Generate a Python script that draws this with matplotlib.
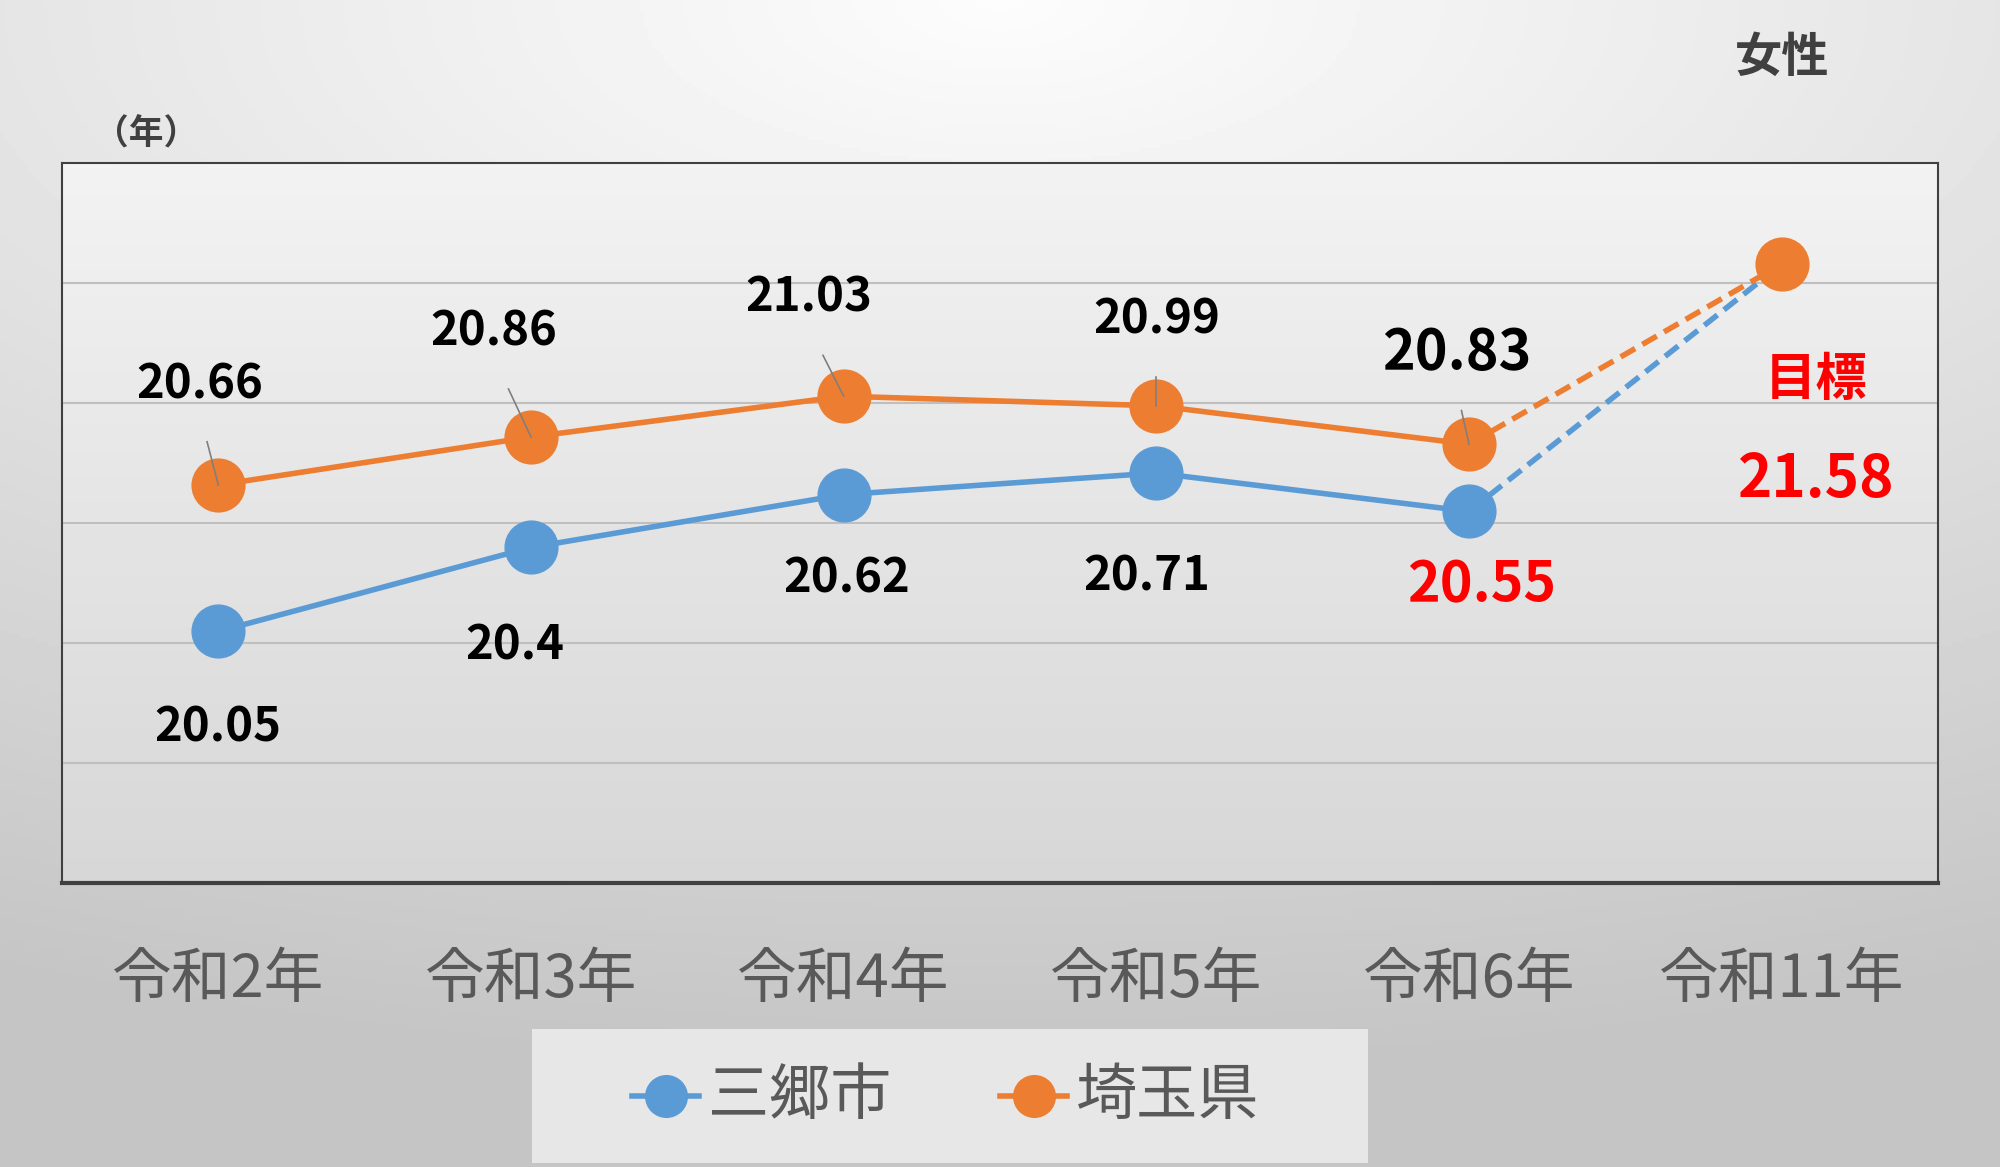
import matplotlib
matplotlib.use("Agg")
import matplotlib.pyplot as plt
import numpy as np

plt.rcParams['font.family'] = ['Noto Sans CJK JP', 'DejaVu Sans']

categories = ["令和2年", "令和3年", "令和4年", "令和5年", "令和6年", "令和11年"]
misato = [20.05, 20.4, 20.62, 20.71, 20.55]
saitama = [20.66, 20.86, 21.03, 20.99, 20.83]
target = 21.58

blue = "#5B9BD5"
orange = "#ED7D31"

fig = plt.figure(figsize=(20, 11.67), dpi=100)
bg = fig.add_axes([0, 0, 1, 1], zorder=-10)
yy, xx = np.mgrid[0:1:300j, 0:1:500j]
r = np.sqrt(((xx - 0.5) * 1.0) ** 2 + ((yy - 1.0) * 1.3) ** 2)
img = 0.99 - 0.22 * np.clip(r, 0, 1.2) / 1.2
bg.imshow(img, cmap='gray', vmin=0, vmax=1, extent=[0, 1, 0, 1], origin='lower', aspect='auto')
bg.axis('off')

ax = fig.add_axes([0.031, 0.243, 0.938, 0.617])
ax.patch.set_alpha(0)
pg = np.linspace(0.95, 0.84, 200).reshape(-1, 1)
ax.imshow(pg, cmap='gray', vmin=0, vmax=1, extent=[-0.5, 5.5, 19, 22], aspect='auto', zorder=0)
ax.set_xlim(-0.5, 5.5)
ax.set_ylim(19, 22)
for g in [19.5, 20, 20.5, 21, 21.5]:
    ax.axhline(g, color="#BFBFBF", lw=1.5, zorder=1)
for s in ax.spines.values():
    s.set_color("#404040"); s.set_linewidth(1.5)
ax.spines['bottom'].set_linewidth(3)
ax.set_yticks([])
ax.set_xticks(range(6))
ax.set_xticklabels(categories, fontsize=43, color="#595959")
ax.tick_params(axis='x', length=0, pad=48)

x = np.arange(5)
ms = 38
ax.plot(x, misato, color=blue, lw=4, marker='o', ms=ms, zorder=3)
ax.plot(x, saitama, color=orange, lw=4, marker='o', ms=ms, zorder=4)
ax.plot([4, 5], [misato[-1], target], color=blue, lw=4, ls=(0, (3, 1.5)), zorder=3)
ax.plot([4, 5], [saitama[-1], target], color=orange, lw=4, ls=(0, (3, 1.5)), zorder=4)
ax.plot([5], [target], color=orange, marker='o', ms=ms, zorder=5)

s_off = [(-0.06, 0.42), (-0.12, 0.44), (-0.11, 0.41), (0.0, 0.36), (-0.04, 0.38)]
for i, v in enumerate(saitama):
    dx, dy = s_off[i]
    big = i == 4
    ax.text(i + dx, v + dy, f"{v:.2f}", ha='center', va='center', fontsize=40 if big else 34,
            fontweight='bold', color='black', zorder=6)
    ax.plot([i + dx * 0.6, i], [v + dy - 0.24, v], color="#7F7F7F", lw=1.2, zorder=6)
m_off = [(0.0, -0.4), (-0.05, -0.41), (0.01, -0.35), (-0.03, -0.43), (0.04, -0.31)]
m_txt = ["20.05", "20.4", "20.62", "20.71", "20.55"]
for i, v in enumerate(misato):
    dx, dy = m_off[i]
    red = i == 4
    ax.text(i + dx, v + dy, m_txt[i], ha='center', va='center', fontsize=40 if red else 34,
            fontweight='bold', color='#FF0000' if red else 'black', zorder=6)

ax.text(5.11, 21.1, "目標", ha='center', va='center', fontsize=37, fontweight='bold', color='#FF0000')
ax.text(5.11, 20.68, f"{target:.2f}", ha='center', va='center', fontsize=42, fontweight='bold', color='#FF0000')

fig.text(0.891, 0.95, "女性", ha='center', va='center', fontsize=34, fontweight='bold', color='#404040')
fig.text(0.073, 0.885, "（年）", ha='center', va='center', fontsize=25, fontweight='bold', color='#404040')

lb = fig.add_axes([0.266, 0.003, 0.418, 0.115])
lb.set_xlim(0, 1); lb.set_ylim(0, 1)
lb.patch.set_facecolor('#EBEBEB'); lb.patch.set_alpha(0.9)
lb.set_xticks([]); lb.set_yticks([])
for s in lb.spines.values():
    s.set_visible(False)
for x0, col, name in [(0.16, blue, "三郷市"), (0.60, orange, "埼玉県")]:
    lb.plot([x0 - 0.04, x0 + 0.04], [0.5, 0.5], color=col, lw=4)
    lb.plot([x0], [0.5], color=col, marker='o', ms=30)
    lb.text(x0 + 0.05, 0.5, name, ha='left', va='center', fontsize=44, color='#595959')

fig.savefig("out.png", dpi=100)
